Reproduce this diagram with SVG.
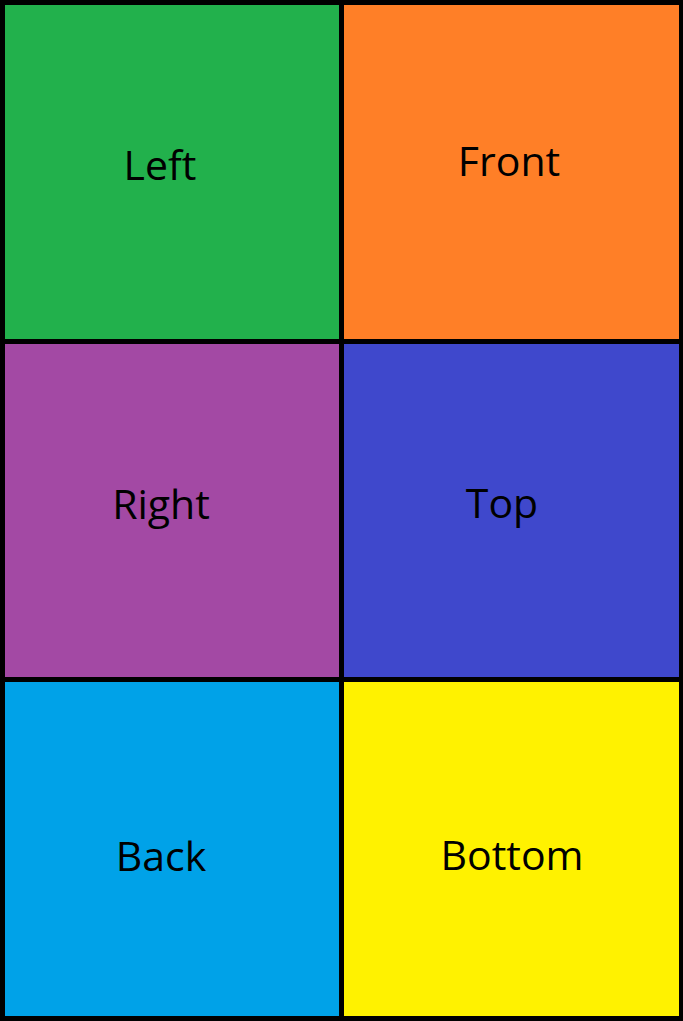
<svg xmlns="http://www.w3.org/2000/svg" width="683" height="1021" viewBox="0 0 683 1021">
<style>
.lbl{font-family:"Open Sans","Noto Sans","DejaVu Sans",sans-serif;font-size:41px;fill:#000;text-anchor:middle}
</style>
<rect x="0" y="0" width="683" height="1021" fill="#000"/>
<g id="left"><rect x="5" y="5" width="334" height="334" fill="#22B14C"/><text class="lbl" x="160" y="180">Left</text></g>
<g id="front"><rect x="344" y="5" width="335" height="334" fill="#FF7F27"/><text class="lbl" x="509" y="176">Front</text></g>
<g id="right"><rect x="5" y="344" width="334" height="333" fill="#A349A4"/><text class="lbl" x="161" y="519">Right</text></g>
<g id="top"><rect x="344" y="344" width="335" height="333" fill="#3F48CC"/><text class="lbl" x="502" y="518">Top</text></g>
<g id="back"><rect x="5" y="682" width="334" height="334" fill="#00A2E8"/><text class="lbl" x="161" y="871">Back</text></g>
<g id="bottom"><rect x="344" y="682" width="335" height="334" fill="#FFF200"/><text class="lbl" x="512" y="870">Bottom</text></g>
<g id="connectors"/>
</svg>
